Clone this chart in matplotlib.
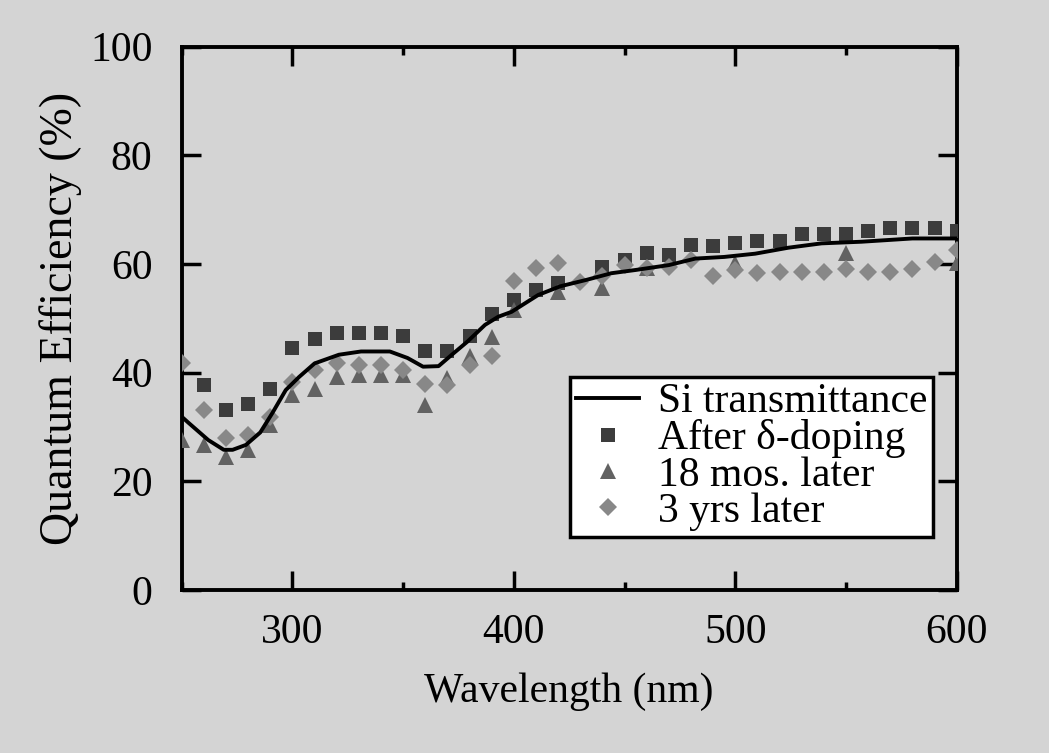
import numpy as np
import matplotlib
matplotlib.use('Agg')
import matplotlib.pyplot as plt
from matplotlib.ticker import MultipleLocator

plt.rcParams['font.family'] = ['Liberation Serif', 'DejaVu Serif']

# Si transmittance curve
line_x = [250, 253, 262, 269, 273, 279, 285.5, 291, 297, 303, 310, 321, 331, 344, 352,
          359, 366, 372, 379, 387, 393, 399, 411, 421, 433, 444, 455, 470, 482, 495,
          509, 524, 539, 557, 580, 600]
line_y = [31.9, 30.8, 27.6, 25.8, 25.8, 26.7, 29.0, 32.6, 36.8, 39.2, 41.7, 43.3, 43.9, 43.9, 42.7,
          41.1, 41.2, 43.3, 45.7, 48.8, 50.3, 51.2, 54.3, 55.9, 57.1, 58.3, 58.9, 59.8, 61.0, 61.3,
          61.9, 63.0, 63.8, 64.1, 64.7, 64.7]

wl = np.arange(250, 601, 10)
nan = np.nan

# After delta-doping (squares)
after_doping = [nan, 37.7, 33.2, 34.3, 37.0, 44.5, 46.2, 47.3, 47.3, 47.3, 46.8, 43.9, 43.9,
                46.7, 50.8, 53.3, 55.3, 56.5, nan, 59.5, 60.7, 62.0, 61.6, 63.5, 63.3, 63.8,
                64.3, 64.3, 65.5, 65.5, 65.5, 66.0, 66.6, 66.6, 66.6, 66.0]
# 18 mos. later (triangles)
mos18 = [27.6, 26.7, 24.5, 25.8, 30.4, 35.9, 37.0, 39.2, 39.5, 39.5, 39.5, 34.1, 39.0,
         43.0, 46.6, 51.5, nan, 54.9, nan, 55.6, nan, 59.2, nan, nan, nan, 60.1,
         nan, nan, nan, nan, 62.0, nan, nan, nan, nan, 60.1]
# 3 yrs later (diamonds)
yrs3 = [41.7, 33.2, 28.0, 28.5, 31.9, 38.3, 40.4, 41.7, 41.4, 41.4, 40.4, 38.0, 37.7,
        41.4, 43.0, 56.8, 59.2, 60.1, 56.7, 57.7, 59.8, 59.2, 59.5, 60.7, 57.7, 58.9,
        58.3, 58.5, 58.5, 58.5, 59.1, 58.5, 58.5, 59.1, 60.4, 62.6]

bg = '#d4d4d4'
fig = plt.figure(figsize=(10.49, 7.53), dpi=100, facecolor=bg)
ax = fig.add_axes([0.1732, 0.2165, 0.7388, 0.7215])
ax.set_facecolor(bg)

ax.plot(wl, after_doping, 's', color='#3c3c3c', ms=9.5, mew=0, zorder=3, label='After δ-doping')
ax.plot(wl, mos18, '^', color='#626262', ms=12, mew=0, zorder=4, label='18 mos. later')
ax.plot(wl, yrs3, 'D', color='#888888', ms=8.7, mew=0, zorder=5, label='3 yrs later')
ax.plot(line_x, line_y, '-', color='black', lw=2.8, zorder=6, label='Si transmittance')

ax.set_xlim(250, 600)
ax.set_ylim(0, 100)
ax.set_xticks([300, 400, 500, 600])
ax.xaxis.set_minor_locator(MultipleLocator(50))
ax.set_yticks([0, 20, 40, 60, 80, 100])

for s in ax.spines.values():
    s.set_linewidth(2.8)
ax.tick_params(which='major', direction='in', length=14, width=2.5, top=True, right=True,
               labelsize=30)
ax.tick_params(axis='x', which='major', pad=17)
ax.tick_params(axis='y', which='major', pad=21)
ax.tick_params(which='minor', direction='in', length=6, width=2.5, top=True, right=True)

ax.set_xlabel('Wavelength (nm)', fontsize=30, labelpad=15)
ax.set_ylabel('Quantum Efficiency (%)', fontsize=33, labelpad=6)

# legend: line first, then the three marker series
handles, labels = ax.get_legend_handles_labels()
order = [3, 0, 1, 2]
leg = ax.legend([handles[i] for i in order], [labels[i] for i in order],
                loc='lower right', bbox_to_anchor=(0.97, 0.097), borderaxespad=0,
                fontsize=30, frameon=True, fancybox=False, framealpha=1,
                edgecolor='black', facecolor='white', labelspacing=-0.05,
                handlelength=1.5, handletextpad=0.45, borderpad=0.15)
leg.get_frame().set_linewidth(2.5)

fig.savefig('out.png', dpi=100, facecolor=bg)
